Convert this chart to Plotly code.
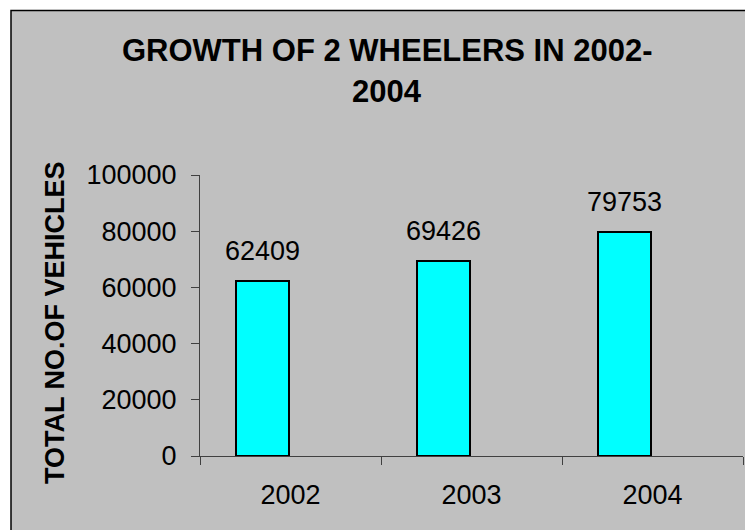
import plotly.graph_objects as go

# Data
years = ["2002", "2003", "2004"]
vehicles = [62409, 69426, 79753]
y_ticks = [0, 20000, 40000, 60000, 80000, 100000]
title_lines = ["GROWTH OF 2 WHEELERS IN 2002-", "2004"]
y_title = "TOTAL NO.OF VEHICLES"

FONT = "Arial, Liberation Sans, sans-serif"
GREY = "#C0C0C0"

W, H = 745, 530
L, R, T, B = 200, 2, 175, 74
plot_w = W - L - R
plot_h = H - T - B


def px_x(px):
    return (px - L) / plot_w


def px_y(py):
    return (H - B - py) / plot_h


bar_width = 0.293
bar_offset = -0.30

fig = go.Figure(
    go.Bar(
        x=years,
        y=vehicles,
        width=bar_width,
        offset=bar_offset,
        marker=dict(color="#00FFFF", line=dict(color="black", width=2)),
        hoverinfo="x+y",
    )
)

annotations = []
# value labels above the bars (category index as x position)
for i, v in enumerate(vehicles):
    annotations.append(
        dict(
            x=i, y=v, xref="x", yref="y",
            text=str(v), showarrow=False,
            xanchor="center", yanchor="bottom",
            xshift=(bar_offset + bar_width / 2) * plot_w / 3,
            yshift=13,
            font=dict(family=FONT, size=27, color="black"),
        )
    )

# two-line chart title
for line, py in zip(title_lines, [50, 92]):
    annotations.append(
        dict(
            x=px_x(387), y=px_y(py), xref="paper", yref="paper",
            text=f"<b>{line}</b>", showarrow=False,
            xanchor="center", yanchor="middle",
            font=dict(family=FONT, size=31, color="black"),
        )
    )

# rotated y-axis title
annotations.append(
    dict(
        x=px_x(55), y=px_y(323), xref="paper", yref="paper",
        text=f"<b>{y_title}</b>", showarrow=False, textangle=-90,
        xanchor="center", yanchor="middle",
        font=dict(family=FONT, size=27, color="black"),
    )
)

# chart-area frame
shapes = [
    dict(
        type="rect", xref="paper", yref="paper", layer="below",
        x0=px_x(11), x1=px_x(W + 20), y0=px_y(H + 20), y1=px_y(10.5),
        fillcolor=GREY, line=dict(color="black", width=1.5),
    )
]

fig.update_layout(
    width=W, height=H,
    margin=dict(l=L, r=R, t=T, b=B, pad=0),
    paper_bgcolor="white",
    plot_bgcolor=GREY,
    showlegend=False,
    bargap=0,
    annotations=annotations,
    shapes=shapes,
    font=dict(family=FONT, size=27, color="black"),
)

fig.update_xaxes(
    type="category",
    range=[-0.5, 2.5],
    tickson="boundaries",
    ticks="outside", ticklen=8, tickwidth=1, tickcolor="#404040",
    showline=True, linecolor="#404040", linewidth=1,
    showgrid=False, zeroline=False,
    tickfont=dict(family=FONT, size=27, color="black"),
    ticklabelstandoff=15,
)

fig.update_yaxes(
    range=[0, 100000],
    tickvals=y_ticks,
    ticktext=[str(t) for t in y_ticks],
    ticks="outside", ticklen=8, tickwidth=1, tickcolor="#404040",
    showline=True, linecolor="#404040", linewidth=1,
    showgrid=False, zeroline=False,
    tickfont=dict(family=FONT, size=27, color="black"),
    ticklabelstandoff=9,
)

fig.write_html("out.html")
